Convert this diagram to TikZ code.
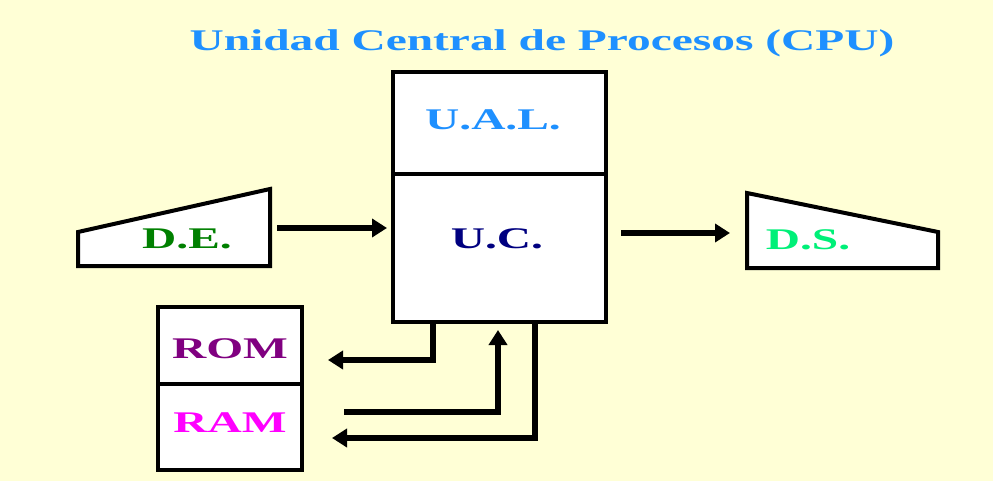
\documentclass[tikz,border=0pt]{standalone}
\usepackage{fontspec}
\newfontfamily\boxfont{Liberation Serif Bold}[FakeStretch=1.58]
\usetikzlibrary{
	arrows.meta
}
\definecolor{paper}{RGB}{255,255,214}
\definecolor{cpublue}{RGB}{30,144,255}
\definecolor{ucnavy}{RGB}{0,0,128}
\definecolor{degreen}{RGB}{0,128,0}
\definecolor{dsgreen}{RGB}{0,240,120}
\definecolor{rompurple}{RGB}{128,0,128}
\definecolor{rammagenta}{RGB}{255,0,255}

\tikzset{
	block/.style={draw,line width=4pt,fill=white,inner sep=0pt,outer sep=0pt,minimum width=#1},
	lbl/.style={font=\boxfont\fontsize{30}{30}\selectfont,anchor=base,inner sep=0pt},
	bus/.style={line width=5.5pt,-{Triangle[length=15pt,width=18pt]}}
}

\begin{document}
\begin{tikzpicture}[x=1pt,y=-1pt]
	\fill[paper] (0,0) rectangle (993,481);
	\useasboundingbox (0,0) rectangle (993,481);

	% CPU and memory
	\node [block=213pt,minimum height=102pt] (ual) at (499.5,123)   {};
	\node [block=213pt,minimum height=148pt] (uc)  at (499.5,248)   {};
	\node [block=144pt,minimum height=77pt]  (rom) at (230,345.5)   {};
	\node [block=144pt,minimum height=86pt]  (ram) at (230,427)     {};

	% input and output devices
	\draw[line width=4pt,fill=white] (78,266) -- (78,232) -- (270,189) -- (270,266) -- cycle;
	\draw[line width=4pt,fill=white] (747,193) -- (938,232) -- (938,268) -- (747,268) -- cycle;

	% texts
	\node [lbl,cpublue]    (title)  at (542,51)  {Unidad Central de Procesos (CPU)};
	\node [lbl,cpublue]    (tual)   at (493,130) {U.A.L.};
	\node [lbl,ucnavy]     (tuc)    at (497,248) {U.C.};
	\node [lbl,degreen]    (tde)    at (187,248) {D.E.};
	\node [lbl,dsgreen]    (tds)    at (808,249) {D.S.};
	\node [lbl,rompurple]  (trom)   at (230,358) {ROM};
	\node [lbl,rammagenta] (tram)   at (230,432) {RAM};

	% connectors
	\coordinate (deout) at (277,228);
	\coordinate (dsin)  at (730,233);
	\coordinate (romin) at (328,360);
	\coordinate (ramout) at (344,412);
	\coordinate (ramin) at (332,438);

	\draw[bus,shorten >=6pt]  (deout) -- (deout -| uc.west);
	\draw[bus,shorten <=15pt] (uc.east |- dsin) -- (dsin);
	\draw[bus] ([xshift=-66.5pt]uc.south) |- (romin);
	\draw[bus] (ramout) -| ([xshift=-1.5pt,yshift=-8pt]uc.south);
	\draw[bus] ([xshift=35.5pt]uc.south) |- (ramin);
\end{tikzpicture}
\end{document}
